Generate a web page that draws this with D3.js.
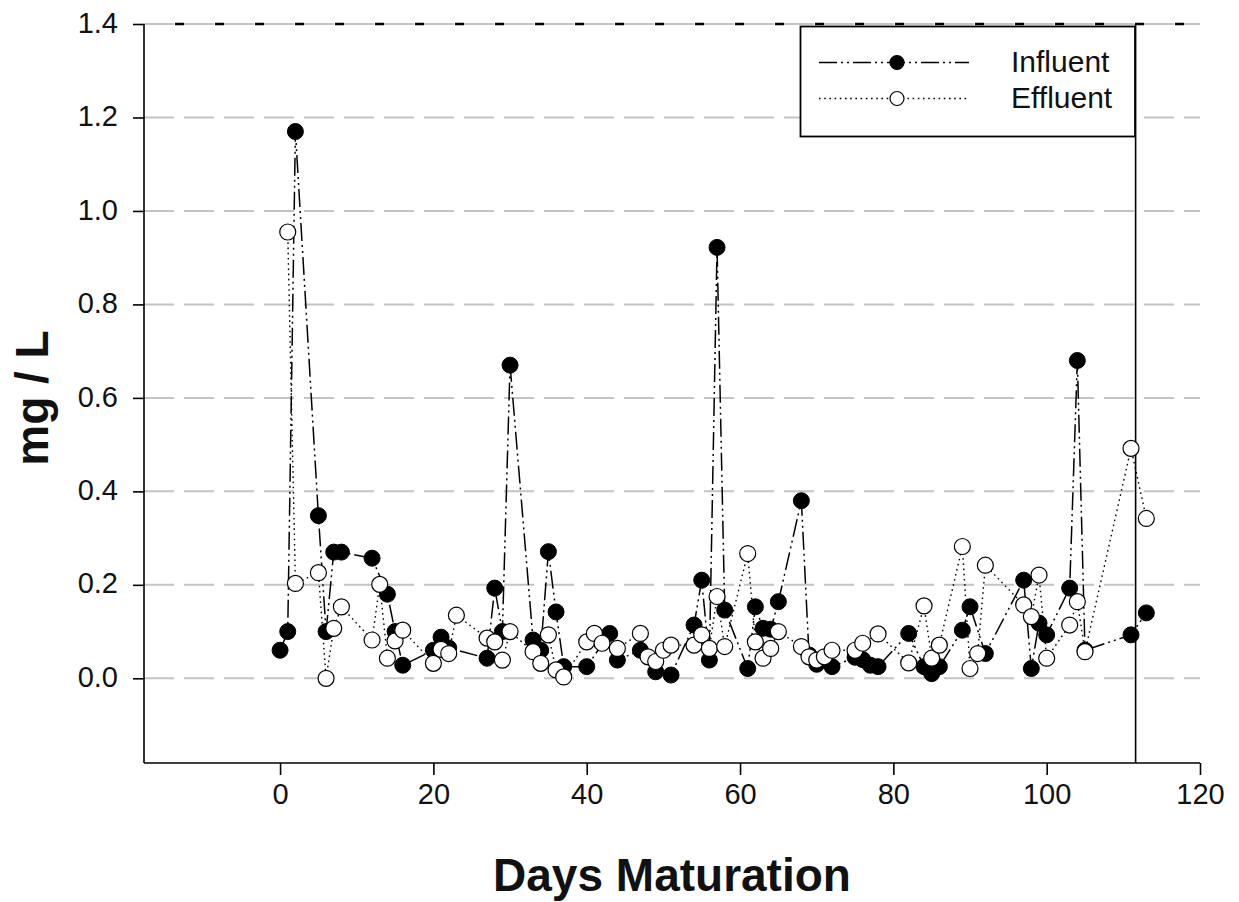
<!DOCTYPE html>
<html>
<head>
<meta charset="utf-8">
<script src="https://cdn.jsdelivr.net/npm/d3@7"></script>
<style>
  html, body { margin: 0; padding: 0; background: #fff; }
  svg { display: block; }
  text { font-family: "Liberation Sans", Arial, sans-serif; fill: #111; }
</style>
</head>
<body>
<svg id="chart" width="1239" height="902"></svg>
<script>
// ---- data ----
const influentDays   = [0, 1, 2, 5, 6, 7, 8, 12, 14, 15, 16, 20, 21, 22, 27, 28, 29, 30, 33, 34, 35, 36, 37, 40, 43, 44, 47, 49, 51, 54, 55, 56, 57, 58, 61, 62, 63, 64, 65, 68, 69, 70, 72, 75, 76, 77, 78, 82, 84, 85, 86, 89, 90, 92, 97, 98, 99, 100, 103, 104, 105, 111, 113];
const influentValues = [0.06, 0.10, 1.17, 0.348, 0.10, 0.27, 0.27, 0.257, 0.18, 0.10, 0.028, 0.06, 0.088, 0.065, 0.043, 0.193, 0.10, 0.67, 0.082, 0.06, 0.271, 0.142, 0.025, 0.025, 0.096, 0.039, 0.06, 0.014, 0.007, 0.114, 0.21, 0.039, 0.922, 0.146, 0.021, 0.153, 0.107, 0.105, 0.164, 0.38, 0.05, 0.03, 0.025, 0.045, 0.04, 0.028, 0.025, 0.096, 0.025, 0.01, 0.025, 0.103, 0.153, 0.053, 0.21, 0.021, 0.118, 0.093, 0.193, 0.68, 0.06, 0.093, 0.14];

const effluentDays   = [1, 2, 5, 6, 7, 8, 12, 13, 14, 15, 16, 20, 21, 22, 23, 27, 28, 29, 30, 33, 34, 35, 36, 37, 40, 41, 42, 44, 47, 48, 49, 50, 51, 54, 55, 56, 57, 58, 61, 62, 63, 64, 65, 68, 69, 70, 71, 72, 75, 76, 78, 82, 84, 85, 86, 89, 90, 91, 92, 97, 98, 99, 100, 103, 104, 105, 111, 113];
const effluentValues = [0.955, 0.203, 0.226, 0.0, 0.107, 0.153, 0.082, 0.201, 0.043, 0.08, 0.103, 0.032, 0.062, 0.053, 0.135, 0.086, 0.078, 0.039, 0.10, 0.057, 0.032, 0.093, 0.018, 0.003, 0.078, 0.096, 0.075, 0.064, 0.096, 0.046, 0.036, 0.06, 0.071, 0.071, 0.093, 0.064, 0.175, 0.068, 0.267, 0.078, 0.043, 0.064, 0.10, 0.068, 0.046, 0.039, 0.046, 0.06, 0.06, 0.075, 0.095, 0.033, 0.155, 0.043, 0.071, 0.282, 0.021, 0.053, 0.242, 0.157, 0.132, 0.221, 0.043, 0.114, 0.164, 0.057, 0.492, 0.342];

const xTicks = [0, 20, 40, 60, 80, 100, 120];
const yTicks = [0.0, 0.2, 0.4, 0.6, 0.8, 1.0, 1.2, 1.4];
const xDomain = [-17.75, 120];
const yDomain = [-0.1812, 1.4];
const refLineDay = 111.6;
const seriesNames = ["Influent", "Effluent"];
const xTitle = "Days Maturation";
const yTitle = "mg / L";

// ---- layout ----
const pLeft = 144, pRight = 1200, pTop = 24, pBottom = 763;
const svg = d3.select("#chart");

const x = d3.scaleLinear().domain(xDomain).range([pLeft, pRight]);
const y = d3.scaleLinear().domain(yDomain).range([pBottom, pTop]);

// gridlines
svg.append("g").selectAll("line").data(yTicks).join("line")
  .attr("x1", pLeft).attr("x2", pRight)
  .attr("y1", d => y(d)).attr("y2", d => y(d))
  .attr("stroke", "#c4c4c4").attr("stroke-width", 2)
  .attr("stroke-dasharray", "30,10");

// black dashed top line at max
svg.append("line")
  .attr("x1", pLeft).attr("x2", pRight)
  .attr("y1", y(yDomain[1])).attr("y2", y(yDomain[1]))
  .attr("stroke", "#000").attr("stroke-width", 2.5)
  .attr("stroke-dasharray", "0,31,9,0");

// vertical reference line
svg.append("line")
  .attr("x1", x(refLineDay)).attr("x2", x(refLineDay))
  .attr("y1", pTop).attr("y2", pBottom)
  .attr("stroke", "#000").attr("stroke-width", 1.6);

// axes
const yAxis = d3.axisLeft(y).tickValues(yTicks).tickSize(11).tickPadding(15)
  .tickFormat(d3.format(".1f"));
const gy = svg.append("g").attr("transform", `translate(${pLeft},0)`).call(yAxis);
gy.select(".domain").attr("d", `M0,${pTop}V${pBottom}`).attr("stroke", "#000").attr("stroke-width", 1.6);
gy.selectAll(".tick line").attr("stroke", "#000").attr("stroke-width", 1.6);
gy.selectAll(".tick text").attr("font-size", 29).attr("fill", "#111")
  .attr("font-family", "Liberation Sans, Arial, sans-serif").attr("dy", "0.28em");

const xAxis = d3.axisBottom(x).tickValues(xTicks).tickSize(12).tickPadding(8)
  .tickFormat(d3.format("d"));
const gx = svg.append("g").attr("transform", `translate(0,${pBottom})`).call(xAxis);
gx.select(".domain").attr("d", `M${pLeft},0H${pRight}`).attr("stroke", "#000").attr("stroke-width", 1.6);
gx.selectAll(".tick line").attr("stroke", "#000").attr("stroke-width", 1.6);
gx.selectAll(".tick text").attr("font-size", 29).attr("fill", "#111")
  .attr("font-family", "Liberation Sans, Arial, sans-serif");

// axis titles
svg.append("text").attr("x", (pLeft + pRight) / 2).attr("y", 891)
  .attr("text-anchor", "middle").attr("font-size", 46).attr("font-weight", "bold")
  .attr("fill", "#000").text(xTitle);
svg.append("text").attr("transform", "translate(48,398) rotate(-90)")
  .attr("text-anchor", "middle").attr("font-size", 46).attr("font-weight", "bold")
  .attr("fill", "#000").text(yTitle);

// series
const influent = influentDays.map((d, i) => [d, influentValues[i]]);
const effluent = effluentDays.map((d, i) => [d, effluentValues[i]]);
const line = d3.line().x(d => x(d[0])).y(d => y(d[1]));

const infDash = "18,4,2,4,2,4";
const effDash = "1.6,3.6";
const R = 8;

svg.append("path").datum(influent).attr("d", line)
  .attr("fill", "none").attr("stroke", "#000").attr("stroke-width", 1.5)
  .attr("stroke-dasharray", infDash);
svg.append("g").selectAll("circle").data(influent).join("circle")
  .attr("cx", d => x(d[0])).attr("cy", d => y(d[1])).attr("r", R)
  .attr("fill", "#000").attr("stroke", "#000").attr("stroke-width", 1);

svg.append("path").datum(effluent).attr("d", line)
  .attr("fill", "none").attr("stroke", "#000").attr("stroke-width", 1.4)
  .attr("stroke-dasharray", effDash);
svg.append("g").selectAll("circle").data(effluent).join("circle")
  .attr("cx", d => x(d[0])).attr("cy", d => y(d[1])).attr("r", R)
  .attr("fill", "#fff").attr("stroke", "#000").attr("stroke-width", 1.2);

// legend
const lg = svg.append("g");
lg.append("rect").attr("x", 800.5).attr("y", 26.5).attr("width", 334.5).attr("height", 110)
  .attr("fill", "#fff").attr("stroke", "#000").attr("stroke-width", 1.8);
const legendRows = [
  { name: seriesNames[0], dash: infDash, fill: "#000", ly: 62.5, ty: 71.5 },
  { name: seriesNames[1], dash: effDash, fill: "#fff", ly: 98.5, ty: 108 }
];
legendRows.forEach(r => {
  lg.append("line").attr("x1", 819).attr("x2", 969).attr("y1", r.ly).attr("y2", r.ly)
    .attr("stroke", "#000").attr("stroke-width", 1.4).attr("stroke-dasharray", r.dash);
  lg.append("circle").attr("cx", 897).attr("cy", r.ly).attr("r", 7)
    .attr("fill", r.fill).attr("stroke", "#000").attr("stroke-width", 1.2);
  lg.append("text").attr("x", 1011).attr("y", r.ty).attr("font-size", 30)
    .attr("fill", "#111").text(r.name);
});
</script>
</body>
</html>
